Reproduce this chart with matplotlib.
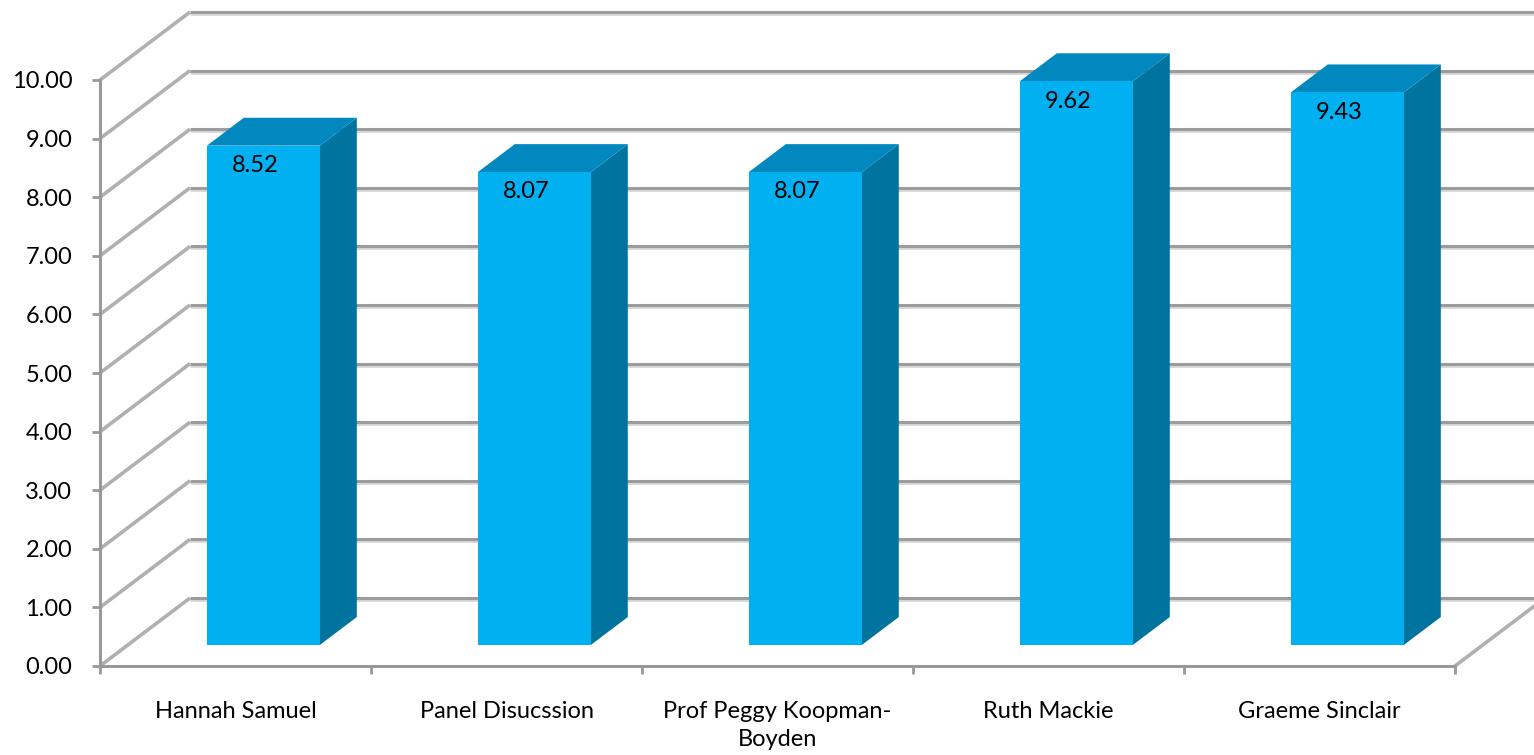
import matplotlib
matplotlib.use("Agg")
import matplotlib.pyplot as plt
from matplotlib.patches import Polygon

categories = ["Hannah Samuel", "Panel Disucssion", "Prof Peggy Koopman-\nBoyden", "Ruth Mackie", "Graeme Sinclair"]
values = [8.52, 8.07, 8.07, 9.62, 9.43]
yticks = [0, 1, 2, 3, 4, 5, 6, 7, 8, 9, 10]

W, H = 1534, 755
fig = plt.figure(figsize=(W / 100, H / 100), dpi=100)
fig.patch.set_facecolor("white")

# plot area = front plane
L, R, B, T = 100, 1455, 666, 80
ax = fig.add_axes([L / W, (H - B) / H, (R - L) / W, (B - T) / H])
ax.set_xlim(0, len(categories))
ax.set_ylim(0, 10)
ax.set_facecolor("none")

# oblique depth offset (in data units) for full depth
DX = 90 / ((R - L) / len(categories))
DY = 68 / ((B - T) / 10)

grid_c = "#9c9c9c"
shadow_c = "#d6d6d6"

def off(f):
    return f * DX, f * DY

# back wall gridlines + left wall diagonals
bx, by = off(1.0)
for v in yticks:
    ax.plot([bx, len(categories) + bx], [v + by - 0.035, v + by - 0.035], color=shadow_c, lw=2.0,
            clip_on=False, zorder=1, solid_capstyle="butt")
    ax.plot([bx, len(categories) + bx], [v + by, v + by], color=grid_c, lw=2.2,
            clip_on=False, zorder=1.1, solid_capstyle="butt")
    ax.plot([0, bx], [v, v + by], color="#b0b0b0", lw=2.6, clip_on=False, zorder=1.2,
            solid_capstyle="butt")
# right floor edge
ax.plot([len(categories), len(categories) + bx], [0, by], color="#b0b0b0", lw=2.6,
        clip_on=False, zorder=1.2)

# bars
f0, f1 = 0.31, 0.72
half = 0.2085
front_c = "#00b0f0"
top_c = "#0088bf"
side_c = "#00739f"
for i, v in enumerate(values):
    ox0, oy0 = off(f0)
    ox1, oy1 = off(f1)
    cx = i + 0.5 + ox0
    xl, xr = cx - half, cx + half
    yb, yt = oy0, oy0 + v
    ddx, ddy = ox1 - ox0, oy1 - oy0
    # side face
    ax.add_patch(Polygon([(xr, yb), (xr + ddx, yb + ddy), (xr + ddx, yt + ddy), (xr, yt)],
                         closed=True, facecolor=side_c, edgecolor="none", zorder=3, clip_on=False))
    # top face
    ax.add_patch(Polygon([(xl, yt), (xr, yt), (xr + ddx, yt + ddy), (xl + ddx, yt + ddy)],
                         closed=True, facecolor=top_c, edgecolor="none", zorder=3, clip_on=False))
    # front face
    ax.add_patch(Polygon([(xl, yb), (xr, yb), (xr, yt), (xl, yt)],
                         closed=True, facecolor=front_c, edgecolor="none", zorder=4, clip_on=False))
    ax.text(cx - 0.03, yt - 0.34, f"{v:.2f}", ha="center", va="center", fontsize=17,
            family="Lato", color="black", zorder=5)

# axes styling
for s in ["top", "right"]:
    ax.spines[s].set_visible(False)
for s in ["left", "bottom"]:
    ax.spines[s].set_color("#999999")
    ax.spines[s].set_linewidth(2.2)
    ax.spines[s].set_zorder(2)

ax.set_yticks(yticks)
ax.set_yticklabels([f"{t:.2f}" for t in yticks])
ax.set_xticks(range(len(categories) + 1))
ax.set_xticklabels([])
ax.set_xticks([i + 0.5 for i in range(len(categories))], minor=True)
ax.set_xticklabels(categories, minor=True)
ax.tick_params(axis="y", length=6, width=2, color="#999999", pad=14, labelsize=17)
ax.tick_params(axis="x", which="major", length=6, width=2, color="#999999")
ax.tick_params(axis="x", which="minor", length=0, pad=25, labelsize=17)
for lab in ax.get_yticklabels() + ax.get_xticklabels(minor=True):
    lab.set_family("Lato")
    lab.set_color("black")
for lab in ax.get_xticklabels(minor=True):
    lab.set_linespacing(1.45)

fig.savefig("out.png", dpi=100, facecolor="white")
